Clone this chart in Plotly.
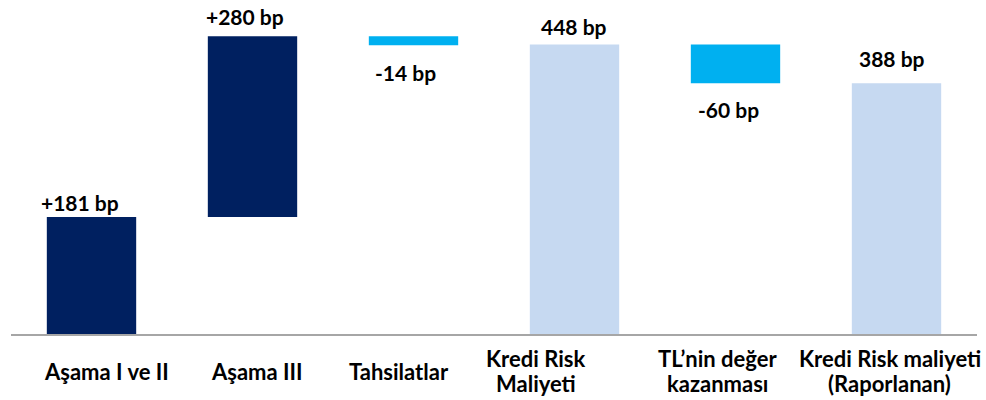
import plotly.graph_objects as go

categories = ["Aşama I ve II", "Aşama III", "Tahsilatlar", "Kredi Risk<br>Maliyeti",
              "TL’nin değer<br>kazanması", "Kredi Risk maliyeti<br>(Raporlanan)"]
# change per step (bp); totals marked by kind
values = [181, 280, -14, 448, -60, 388]
kinds = ["up", "up", "down", "total", "down", "total"]
labels = ["+181 bp", "+280 bp", "-14 bp", "448 bp", "-60 bp", "388 bp"]

colors = {"up": "#002060", "down": "#00B0F0", "total": "#C6D9F1"}

bases, heights, tops, bottoms = [], [], [], []
level = 0
for v, k in zip(values, kinds):
    if k == "total":
        b, h = 0, v
        level = v
    else:
        b = level if v >= 0 else level + v
        h = abs(v)
        level = level + v
    bases.append(b)
    heights.append(h)
    bottoms.append(b)
    tops.append(b + h)

x = list(range(len(categories)))

fig = go.Figure()
fig.add_trace(go.Bar(
    x=x, y=heights, base=bases,
    marker=dict(color=[colors[k] for k in kinds], line=dict(width=0)),
    width=0.555, hoverinfo="skip",
))

font = dict(family="Lato, 'Open Sans', sans-serif", size=21, color="#000000")
cat_font = dict(family="Lato, 'Open Sans', sans-serif", size=22, color="#000000")
label_yshift = [15, 20, -27, 18, -26, 25]
label_xshift = [-12, -8, -8, -1, -7, -5]
for i, (lab, k) in enumerate(zip(labels, kinds)):
    yv = bottoms[i] if k == "down" else tops[i]
    fig.add_annotation(x=i, y=yv, text="<b>%s</b>" % lab, showarrow=False,
                       yanchor="middle", yshift=label_yshift[i], xshift=label_xshift[i],
                       font=font)

cat_xshift = [15, 4, -15, -39, -18, -7]
for i, c in enumerate(categories):
    lines = c.split("<br>")
    n = len(lines)
    for j, ln in enumerate(lines):
        off = (j - (n - 1) / 2) * 25
        fig.add_annotation(x=i, y=0, yref="paper", text="<b>%s</b>" % ln, showarrow=False,
                           yanchor="middle", yshift=-37 - off, xshift=cat_xshift[i],
                           font=cat_font)

fig.update_layout(
    width=986, height=400,
    margin=dict(l=11, r=9, t=0, b=66),
    paper_bgcolor="white", plot_bgcolor="white",
    showlegend=False, bargap=0.445,
    xaxis=dict(range=[-0.5, 5.5], showticklabels=False, ticks="", showgrid=False,
               zeroline=False, showline=True, linecolor="#A6A6A6", linewidth=1.5),
    yaxis=dict(range=[0, 517], visible=False, showgrid=False, zeroline=False),
)

fig.write_html("out.html")
